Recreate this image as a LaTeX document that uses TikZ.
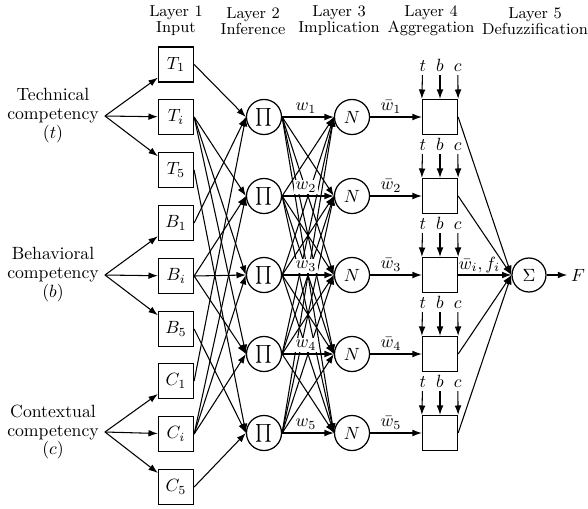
\documentclass[tikz,border=0pt]{standalone}
\usepackage{fontspec}
\usetikzlibrary{arrows.meta}
\begin{document}
\begin{tikzpicture}[x=0.565pt,y=-0.565pt,
  box/.style={draw, line width=0.7pt, minimum size=19.8pt, inner sep=0pt},
  circ/.style={draw, circle, line width=0.7pt, minimum size=19.8pt, inner sep=0pt},
  arr/.style={-{Latex[length=5.3pt,width=3.8pt]}, line width=0.6pt},
  ttl/.style={font=\fontsize{9}{9}\selectfont\addfontfeatures{FakeBold=0.6}, align=center},
  side/.style={font=\fontsize{10}{10.7}\selectfont, align=center},
  wlab/.style={fill=white, inner sep=1pt},
  tbc/.style={inner sep=0pt, text height=6.9pt, text depth=0pt, outer sep=2.2pt}]
\useasboundingbox (0,0) rectangle (588,508);

% titles
\node[ttl] (h1) at (176,21) {Layer 1\\Input};
\node[ttl] (h2) at (253,21) {Layer 2\\Inference};
\node[ttl] (h3) at (339,21) {Layer 3\\Implication};
\node[ttl] (h4) at (431,21) {Layer 4\\Aggregation};
\node[ttl] (h5) at (535,21) {Layer 5\\Defuzzification};

% side labels
\node[side] (tt) at (53,116) {Technical\\competency\\$(t)$};
\node[side] (bb) at (53,275) {Behavioral\\competency\\$(b)$};
\node[side] (cc) at (53,432) {Contextual\\competency\\$(c)$};

% layer 1
\node[box] (T1) at (176,64.5) {$T_1$};
\node[box] (Ti) at (176,117) {$T_i$};
\node[box] (T5) at (176,170) {$T_5$};
\node[box] (B1) at (176,223) {$B_1$};
\node[box] (Bi) at (176,276) {$B_i$};
\node[box] (B5) at (176,329) {$B_5$};
\node[box] (C1) at (176,381) {$C_1$};
\node[box] (Ci) at (176,434) {$C_i$};
\node[box] (C5) at (176,487) {$C_5$};

\foreach \s in {T1,Ti,T5} \draw[arr] (tt.east) -- (\s);
\foreach \s in {B1,Bi,B5} \draw[arr] (bb.east) -- (\s);
\foreach \s in {C1,Ci,C5} \draw[arr] (cc.east) -- (\s);

% layers 2-4
\foreach \k/\y in {1/117,2/196,3/275,4/354,5/433} {
  \node[circ] (P\k) at (264,\y) {$\prod$};
  \node[circ] (N\k) at (352,\y) {$N$};
  \node[box] (A\k) at (440,\y) {};
  \node[tbc] (t\k) at (422.7,\y-52) {$t$};
  \node[tbc] (b\k) at (440,\y-52) {$b$};
  \node[tbc] (c\k) at (457.7,\y-52) {$c$};
  \draw[arr] (t\k) -- (A\k.north west);
  \draw[arr] (b\k) -- (A\k.north);
  \draw[arr] (c\k) -- (A\k.north east);
}

% layer 1 -> layer 2
\foreach \s in {T1,B1,C1} \draw[arr] (\s.east) -- (P1.west);
\foreach \s in {Ti,Bi,Ci} \foreach \k in {2,3,4} \draw[arr] (\s.east) -- (P\k.west);
\foreach \s in {T5,B5,C5} \draw[arr] (\s.east) -- (P5.west);

% layer 2 -> layer 3
\foreach \i in {1,...,5} \foreach \j in {1,...,5} \draw[arr] (P\i.east) -- (N\j.west);

% weights
\foreach \k/\y in {1/117,2/196,3/275,4/354,5/433} {
  \node[wlab] (w\k) at (306,\y-9) {$w_{\k}$};
  \node[inner sep=1pt] (wb\k) at (391,\y-10) {$\bar{w}_{\k}$};
  \draw[arr] (N\k) -- (A\k);
}

% layer 5
\node[circ, minimum size=19.2pt] (S) at (529,275) {$\Sigma$};
\node[inner sep=2pt] (F) at (578,275) {$F$};
\foreach \k in {1,2,4,5} \draw[arr] (A\k.east) -- (S.west);
\draw[arr] (A3.east) -- node[pos=0.4, above, inner sep=1pt] {$\bar{w}_i, f_i$} (S.west);
\draw[arr] (S) -- (F);
\end{tikzpicture}
\end{document}
